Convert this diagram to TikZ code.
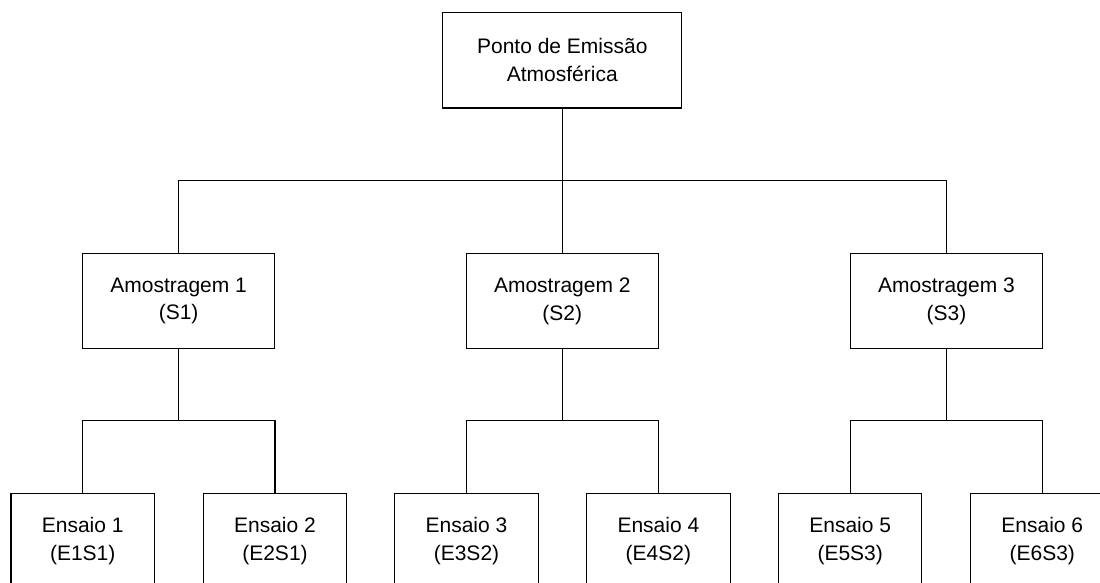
\documentclass[tikz,border=0pt]{standalone}
\usepackage{fontspec}
\setmainfont{Liberation Sans}
\begin{document}
\begin{tikzpicture}[x=0.5pt,y=-0.5pt,
  box/.style={draw=black,line width=0.55pt,fill=white,align=center,inner sep=0pt,outer sep=0pt,
    minimum height=47.8pt,font=\fontsize{10.5}{13.85}\selectfont},
  topbox/.style={box,minimum width=119.6pt},
  midbox/.style={box,minimum width=95.8pt},
  leafbox/.style={box,minimum width=71.7pt},
  link/.style={draw=black,line width=0.55pt}]
\useasboundingbox (0,0) rectangle (1100,583);
\clip (0,0) rectangle (1100,583);
\node[topbox] (top) at (562.3,60.2) {Ponto de Emissão\\Atmosférica};
\node[midbox] (s1) at (178.6,301) {Amostragem 1\\(S1)};
\node[midbox] (s2) at (562.3,301) {Amostragem 2\\(S2)};
\node[midbox] (s3) at (946.5,301) {Amostragem 3\\(S3)};
\node[leafbox] (e1) at (82.7,541) {Ensaio 1\\(E1S1)};
\node[leafbox] (e2) at (275,541) {Ensaio 2\\(E2S1)};
\node[leafbox] (e3) at (466.5,541) {Ensaio 3\\(E3S2)};
\node[leafbox] (e4) at (658.4,541) {Ensaio 4\\(E4S2)};
\node[leafbox] (e5) at (850.2,541) {Ensaio 5\\(E5S3)};
\node[leafbox] (e6) at (1042.3,541) {Ensaio 6\\(E6S3)};
\coordinate (b0) at (562.3,180.7);
\coordinate (b1) at (178.6,420.7);
\coordinate (b2) at (562.3,420.7);
\coordinate (b3) at (946.5,420.7);
\draw[link] (top.south) -- (b0);
\draw[link] (s1.north) |- (b0) -| (s3.north);
\draw[link] (s2.north) -- (b0);
\draw[link] (s1.south) -- (b1);
\draw[link] (e1.north) |- (b1) -| (e2.north);
\draw[link] (s2.south) -- (b2);
\draw[link] (e3.north) |- (b2) -| (e4.north);
\draw[link] (s3.south) -- (b3);
\draw[link] (e5.north) |- (b3) -| (e6.north);
\end{tikzpicture}
\end{document}
